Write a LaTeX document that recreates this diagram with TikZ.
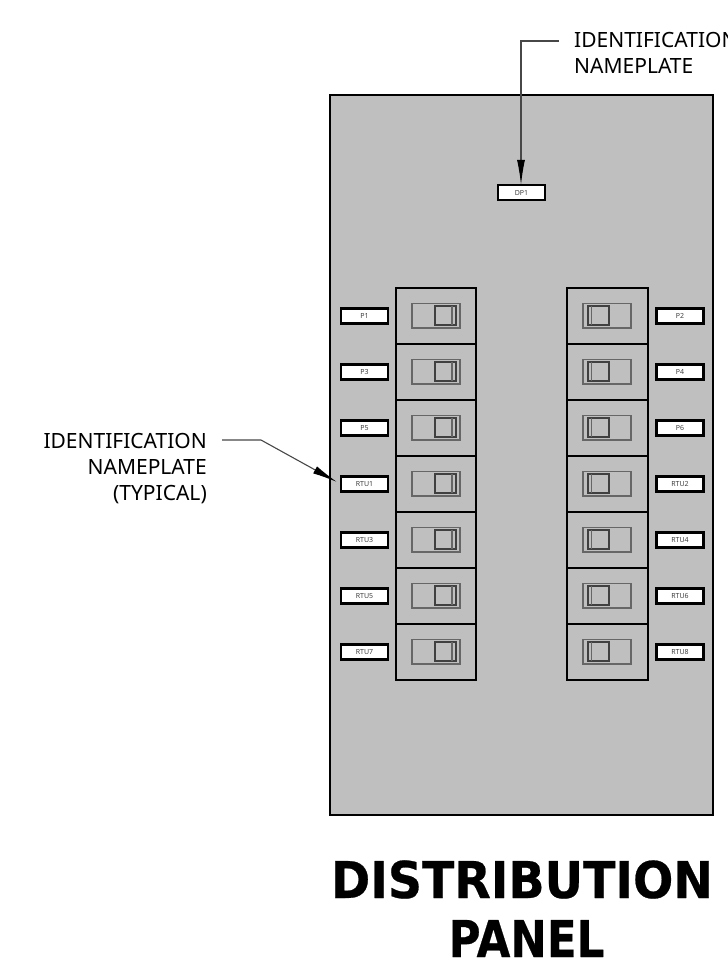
\documentclass[tikz,border=0pt]{standalone}
\usepackage{fontspec}
\setmainfont{Noto Sans}
\newfontfamily\titlefont[BoldFont={DejaVu Sans Bold},BoldFeatures={FakeBold=0.5}]{DejaVu Sans}
\usetikzlibrary{arrows.meta}
\tikzset{
  plate/.style={draw=black,line width=2.4pt,fill=white,minimum width=47pt,minimum height=15pt,inner sep=0pt,font=\fontsize{7}{7}\selectfont,text=black!75},
  bay/.style={draw=black,line width=2pt,fill=none},
  tog/.style={draw=black!60,line width=1.3pt,fill=none},
  togin/.style={draw=black!75,line width=1.3pt,fill=none},
  leader/.style={draw=black!72,line width=1.1pt},
  lbl/.style={inner sep=0pt,font=\fontsize{21}{26}\selectfont,text=black},
  head/.style={-{Latex[length=25pt,width=8pt,black]}},
  ttl/.style={inner sep=0pt,font=\titlefont\bfseries\fontsize{47.4}{47}\selectfont,text=black}
}
\begin{document}
\begin{tikzpicture}[x=1pt,y=-1pt]
\useasboundingbox (0,0) rectangle (728,970);
\clip (0,0) rectangle (728,970);
\draw[black,line width=2.4pt,fill=black!25] (330,95) rectangle (713,815);
\node[plate] (dp) at (521.5,192.5) {DP1};
\foreach \i/\lname/\rname in {0/P1/P2,1/P3/P4,2/P5/P6,3/RTU1/RTU2,4/RTU3/RTU4,5/RTU5/RTU6,6/RTU7/RTU8}{
  \pgfmathsetmacro{\yy}{316+56*\i}
  \node[plate] (L\i) at (364.5,\yy) {\lname};
  \node[plate] (R\i) at (680,\yy) {\rname};
  % left breaker
  \draw[bay] (396,\yy-28) rectangle (476,\yy+28);
  \draw[tog] (412,\yy-12.5) rectangle (460,\yy+12);
  \draw[togin] (435,\yy-10) rectangle (456,\yy+9);
  \draw[tog] (452,\yy-10) -- (452,\yy+9);
  % right breaker
  \draw[bay] (567,\yy-28) rectangle (648,\yy+28);
  \draw[tog] (583,\yy-12.5) rectangle (631,\yy+12);
  \draw[togin] (588,\yy-10) rectangle (609,\yy+9);
  \draw[tog] (591.5,\yy-10) -- (591.5,\yy+9);
}
\coordinate (topfree) at (559,41);
\coordinate (topbend) at (521,41);
\coordinate (leftfree) at (222,440);
\coordinate (leftbend) at (261,440);
\coordinate (lefttip) at (337,482);
\draw[leader,head] (topfree) -- (topbend) -- ([yshift=-1pt]topbend |- dp.north);
\draw[leader,head] (leftfree) -- (leftbend) -- (lefttip);
\node[lbl,anchor=base west] (t1) at (574,47.5) {IDENTIFICATION};
\node[lbl,anchor=base west] (t2) at (574,73.5) {NAMEPLATE};
\node[lbl,anchor=base east] (l1) at (207,448.5) {IDENTIFICATION};
\node[lbl,anchor=base east] (l2) at (207,474.5) {NAMEPLATE};
\node[lbl,anchor=base east] (l3) at (207,500.5) {(TYPICAL)};
\node[ttl,anchor=base] (tt1) at (522,898) {\scalebox{1}[1.07]{DISTRIBUTION}};
\node[ttl,anchor=base] (tt2) at (526.5,957) {\scalebox{0.92}[1.07]{PANEL}};
\end{tikzpicture}
\end{document}
